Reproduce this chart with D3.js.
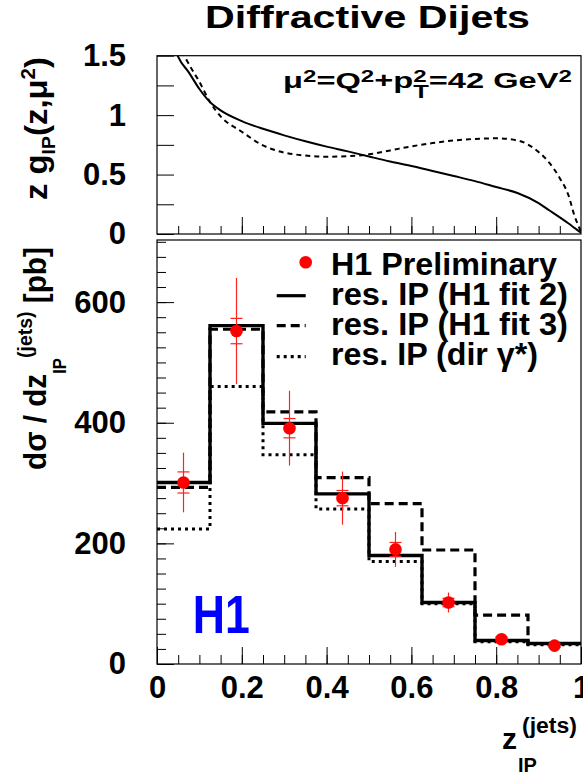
<!DOCTYPE html>
<html lang="en">
<head>
<meta charset="UTF-8">
<title>Diffractive Dijets</title>
<script src="https://d3js.org/d3.v7.min.js"></script>
<style>
  body { margin: 0; background: #fff; }
  text { font-family: "Liberation Sans", Arial, Helvetica, sans-serif; font-weight: bold; }
</style>
</head>
<body>
<div id="chart"></div>
<script>

// pomeron gluon density at mu^2 = 42 GeV^2
var zGrid    = [0.03, 0.05, 0.075, 0.1, 0.125, 0.15, 0.2, 0.25, 0.3, 0.35, 0.4, 0.45, 0.5,
                0.55, 0.6, 0.65, 0.7, 0.75, 0.8, 0.85, 0.9, 0.925, 0.95, 0.97, 0.985, 1.0];
var gluonFit2 = [1.7, 1.49, 1.36, 1.22, 1.11, 1.04, 0.95, 0.885, 0.83, 0.78, 0.735, 0.695, 0.652,
                 0.61, 0.572, 0.53, 0.488, 0.445, 0.395, 0.345, 0.26, 0.2, 0.14, 0.09, 0.05, 0.01];
var gluonFit3 = [1.9, 1.62, 1.43, 1.28, 1.11, 0.99, 0.86, 0.745, 0.685, 0.66, 0.65, 0.655, 0.67,
                 0.703, 0.737, 0.765, 0.787, 0.8, 0.805, 0.787, 0.69, 0.6, 0.47, 0.33, 0.15, 0.02];

// cross section histograms [pb]
var binEdges = [0, 0.125, 0.25, 0.375, 0.5, 0.625, 0.75, 0.875, 1];
var xsFit2   = [301, 561, 399, 282, 180, 102, 39, 34];
var xsFit3   = [293, 555, 418, 309, 266, 189, 81, 34];
var xsDir    = [224, 460, 347, 257, 170, 100, 37, 32];

// H1 preliminary data
var dataZ   = [0.0625, 0.1875, 0.3125, 0.4375, 0.5625, 0.6875, 0.8125, 0.9375];
var dataXs  = [301, 552, 391, 275, 190, 102, 41, 30.5];
var statErr = [17.5, 21, 16, 12.7, 11.5, 7, 4, 3];
var totErr  = [49.5, 88, 62, 44, 29, 16.5, 8, 6];

var W = 583, H = 780;
var svg = d3.select("#chart").append("svg")
    .attr("width", W).attr("height", H);

var x = d3.scaleLinear().domain([0, 1]).range([157, 581]);
var yTop = d3.scaleLinear().domain([0, 1.5]).range([234, 55.7]);
var yBot = d3.scaleLinear().domain([0, 703]).range([664, 240]);

var tickFont = "31px";

// helper: squeeze a text group to a wanted width
function fitGroup(g, tx, ty, rot, width) {
  var bb = g.node().getBBox();
  var s = width / bb.width;
  g.attr("transform", "translate(" + tx + "," + ty + ") rotate(" + rot + ") scale(" + s + ",1)");
}

// ---------- top panel ----------
svg.append("clipPath").attr("id", "clipTop")
  .append("rect")
  .attr("x", x(0)).attr("y", yTop(1.5))
  .attr("width", x(1) - x(0)).attr("height", yTop(0) - yTop(1.5));

var pdfLine = d3.line()
  .x(function(d) { return x(d[0]); })
  .y(function(d) { return yTop(d[1]); })
  .curve(d3.curveMonotoneX);

svg.append("path")
  .datum(d3.zip(zGrid, gluonFit2))
  .attr("clip-path", "url(#clipTop)")
  .attr("fill", "none").attr("stroke", "black").attr("stroke-width", 2)
  .attr("d", pdfLine);
svg.append("path")
  .datum(d3.zip(zGrid, gluonFit3))
  .attr("clip-path", "url(#clipTop)")
  .attr("fill", "none").attr("stroke", "black").attr("stroke-width", 2)
  .attr("stroke-dasharray", "5,4")
  .attr("d", pdfLine);

// axes of top panel (ticks inside the frame)
var gTopY = svg.append("g").attr("transform", "translate(" + x(0) + ",0)")
  .call(d3.axisLeft(yTop).tickValues([0, 0.25, 0.5, 0.75, 1, 1.25, 1.5])
        .tickSize(-17).tickPadding(31)
        .tickFormat(function(d) { return (d * 2) % 1 === 0 ? d3.format("")(d) : ""; }));
var gTopX = svg.append("g").attr("transform", "translate(0," + yTop(0) + ")")
  .call(d3.axisBottom(x).tickValues([0.2, 0.4, 0.6, 0.8]).tickSize(-17).tickFormat(""));
var gTopXm = svg.append("g").attr("transform", "translate(0," + yTop(0) + ")")
  .call(d3.axisBottom(x).tickValues(d3.range(0.05, 1, 0.05)).tickSize(-8).tickFormat(""));

svg.append("rect")
  .attr("x", x(0)).attr("y", yTop(1.5))
  .attr("width", x(1) - x(0)).attr("height", yTop(0) - yTop(1.5))
  .attr("fill", "none").attr("stroke", "black").attr("stroke-width", 1.2);

// ---------- bottom panel ----------
var histLine = d3.line()
  .x(function(d) { return x(d[0]); })
  .y(function(d) { return yBot(d[1]); })
  .curve(d3.curveStepAfter);

function histPoints(vals) {
  var pts = vals.map(function(v, i) { return [binEdges[i], v]; });
  pts.push([binEdges[binEdges.length - 1], vals[vals.length - 1]]);
  return pts;
}

svg.append("path").datum(histPoints(xsDir))
  .attr("fill", "none").attr("stroke", "black").attr("stroke-width", 3)
  .attr("stroke-dasharray", "3,4").attr("d", histLine);
svg.append("path").datum(histPoints(xsFit3))
  .attr("fill", "none").attr("stroke", "black").attr("stroke-width", 3.2)
  .attr("stroke-dasharray", "9,5").attr("d", histLine);
svg.append("path").datum(histPoints(xsFit2))
  .attr("fill", "none").attr("stroke", "black").attr("stroke-width", 3.4)
  .attr("d", histLine);

// error bars and points
var pts = svg.append("g");
dataZ.forEach(function(z, i) {
  var cx = x(z);
  pts.append("line")
    .attr("x1", cx).attr("x2", cx)
    .attr("y1", yBot(dataXs[i] - totErr[i])).attr("y2", yBot(dataXs[i] + totErr[i]))
    .attr("stroke", "#ff2020").attr("stroke-width", 1.2);
  [dataXs[i] - statErr[i], dataXs[i] + statErr[i]].forEach(function(v) {
    pts.append("line")
      .attr("x1", cx - 6).attr("x2", cx + 6)
      .attr("y1", yBot(v)).attr("y2", yBot(v))
      .attr("stroke", "#ff2020").attr("stroke-width", 1.2);
  });
  pts.append("circle")
    .attr("cx", cx).attr("cy", yBot(dataXs[i])).attr("r", 6.3)
    .attr("fill", "#ff0000");
});

// axes of bottom panel
var gBotY = svg.append("g").attr("transform", "translate(" + x(0) + ",0)")
  .call(d3.axisLeft(yBot).tickValues([0, 200, 400, 600]).tickSize(-17).tickPadding(31));
var gBotYm = svg.append("g").attr("transform", "translate(" + x(0) + ",0)")
  .call(d3.axisLeft(yBot).tickValues(d3.range(25, 701, 25)).tickSize(-9).tickFormat(""));
var gBotX = svg.append("g").attr("transform", "translate(0," + yBot(0) + ")")
  .call(d3.axisBottom(x).tickValues([0, 0.2, 0.4, 0.6, 0.8, 1]).tickSize(-17).tickPadding(12)
        .tickFormat(d3.format("")));
var gBotXm = svg.append("g").attr("transform", "translate(0," + yBot(0) + ")")
  .call(d3.axisBottom(x).tickValues(d3.range(0.05, 1, 0.05)).tickSize(-9).tickFormat(""));

[gTopY, gTopX, gTopXm, gBotY, gBotYm, gBotX, gBotXm].forEach(function(g) {
  g.select(".domain").remove();
  g.selectAll(".tick line").attr("stroke", "black").attr("stroke-width", 1);
  g.selectAll("text").style("font-size", tickFont).attr("fill", "black");
});

svg.append("rect")
  .attr("x", x(0)).attr("y", yBot(703))
  .attr("width", x(1) - x(0)).attr("height", yBot(0) - yBot(703))
  .attr("fill", "none").attr("stroke", "black").attr("stroke-width", 1.2);

// ---------- legend ----------
var legendRows = ["H1 Preliminary", "res. IP (H1 fit 2)", "res. IP (H1 fit 3)", "res. IP (dir \u03b3*)"];
var legendY = [262.3, 295.7, 325.7, 356.7];
var legendBase = [274.5, 304.5, 335, 365];
var legendLen = [226, 237, 237, 207];
svg.append("circle").attr("cx", 305.7).attr("cy", legendY[0]).attr("r", 6.3).attr("fill", "#ff0000");
var legDash = [null, null, "9,5", "3,4"];
[1, 2, 3].forEach(function(i) {
  svg.append("line")
    .attr("x1", 276.7).attr("x2", 305.7)
    .attr("y1", legendY[i]).attr("y2", legendY[i])
    .attr("stroke", "black").attr("stroke-width", 3.2)
    .attr("stroke-dasharray", legDash[i]);
});
legendRows.forEach(function(t, i) {
  svg.append("text")
    .attr("x", 331).attr("y", legendBase[i])
    .style("font-size", "31px")
    .attr("textLength", legendLen[i]).attr("lengthAdjust", "spacingAndGlyphs")
    .text(t);
});

// ---------- labels ----------
svg.append("text")
  .attr("x", 367.5).attr("y", 28)
  .attr("text-anchor", "middle")
  .style("font-size", "32px")
  .attr("textLength", 325).attr("lengthAdjust", "spacingAndGlyphs")
  .text("Diffractive Dijets");

svg.append("text")
  .attr("x", 192.7).attr("y", 633.3)
  .style("font-size", "54px").attr("fill", "#0000ff")
  .attr("textLength", 57).attr("lengthAdjust", "spacingAndGlyphs")
  .text("H1");

// mu^2 label
var mu = svg.append("g");
var muT = mu.append("text").style("font-size", "23px");
muT.append("tspan").text("\u03bc");
muT.append("tspan").attr("dy", -6).style("font-size", "17px").text("2");
muT.append("tspan").attr("dy", 6).text("=Q");
muT.append("tspan").attr("dy", -6).style("font-size", "17px").text("2");
muT.append("tspan").attr("dy", 6).text("+p");
muT.append("tspan").attr("dy", -6).style("font-size", "17px").text("2");
muT.append("tspan").attr("dx", -9.5).attr("dy", 16).style("font-size", "18px").text("T");
muT.append("tspan").attr("dy", -10).text("=42 GeV");
muT.append("tspan").attr("dy", -6).style("font-size", "17px").text("2");
fitGroup(mu, 283, 88, 0, 289);

// top y title
var yt1 = svg.append("g");
var yt1T = yt1.append("text").style("font-size", "32px");
yt1T.append("tspan").text("z g");
yt1T.append("tspan").attr("dy", 8).style("font-size", "19px").text("IP");
yt1T.append("tspan").attr("dy", -8).text("(z,\u03bc");
yt1T.append("tspan").attr("dy", -12).style("font-size", "20px").text("2");
yt1T.append("tspan").attr("dy", 12).text(")");
fitGroup(yt1, 47, 200, -90, 143);

// bottom y title
var yt2 = svg.append("g");
var yt2T = yt2.append("text").style("font-size", "32px");
yt2T.append("tspan").text("d\u03c3 / dz");
yt2T.append("tspan").attr("dy", 20).style("font-size", "18px").text("IP");
yt2T.append("tspan").attr("dy", -34).style("font-size", "21px").text("(jets)");
yt2T.append("tspan").attr("dy", 14).text(" [pb]");
fitGroup(yt2, 46, 470, -90, 223);

// x title
var xt = svg.append("g");
xt.append("text").attr("x", 502).attr("y", 749).style("font-size", "30px").text("z");
xt.append("text").attr("x", 522).attr("y", 733).style("font-size", "22px")
  .attr("textLength", 55).attr("lengthAdjust", "spacingAndGlyphs").text("(jets)");
xt.append("text").attr("x", 518).attr("y", 772).style("font-size", "20px").text("IP");

</script>
</body>
</html>
